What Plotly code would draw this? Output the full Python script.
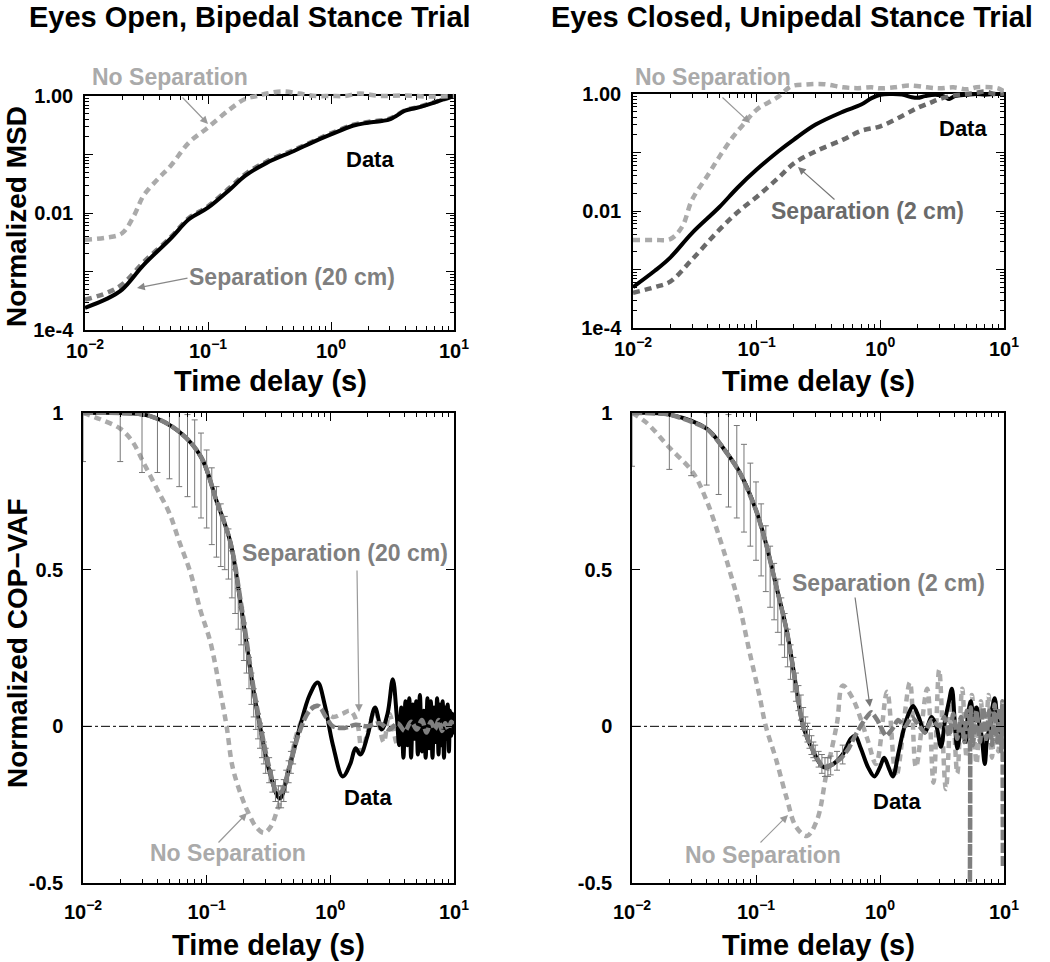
import plotly.graph_objects as go

W, H = 1050, 962

# ---------------- data ----------------
# Top-left: Eyes open, bipedal -- normalized MSD
tl_t = [0.01, 0.015, 0.02, 0.03, 0.05, 0.07, 0.1, 0.15, 0.2, 0.3, 0.5, 0.7, 1.0, 1.5, 2.0, 3.0, 4.0, 5.0, 7.0, 10.0]
tl_data = [2.4e-4, 3.4e-4, 4.9e-4, 1.3e-3, 3.7e-3, 7.8e-3, 0.0123, 0.025, 0.043, 0.072, 0.115, 0.16, 0.22, 0.31, 0.35, 0.40, 0.56, 0.63, 0.78, 1.0]
tl_sep = [3.3e-4, 4.3e-4, 6.0e-4, 1.45e-3, 3.9e-3, 8.2e-3, 0.013, 0.027, 0.046, 0.076, 0.12, 0.165, 0.23, 0.32, 0.36, 0.41, 0.57, 0.64, 0.79, 1.0]
tl_nosep_t = [0.01, 0.015, 0.02, 0.025, 0.03, 0.04, 0.05, 0.07, 0.1, 0.15, 0.2, 0.25, 0.3, 0.4, 0.55, 0.75, 1.0, 1.3, 1.7, 2.5, 4.0, 6.0, 10.0]
tl_nosep = [3.5e-3, 3.8e-3, 4.5e-3, 9e-3, 0.02, 0.04, 0.065, 0.16, 0.29, 0.59, 0.89, 1.0, 1.1, 1.2, 1.1, 1.0, 1.0, 1.0, 1.1, 1.0, 1.02, 0.98, 1.0]

# Top-right: Eyes closed, unipedal -- normalized MSD
tr_t = [0.01, 0.015, 0.02, 0.03, 0.05, 0.07, 0.1, 0.15, 0.2, 0.3, 0.5, 0.7, 0.85, 1.0, 1.2, 1.5, 1.8, 2.0, 2.3, 2.8, 3.3, 3.6, 4.0, 5.0, 6.0, 7.0, 8.5, 10.0]
tr_data = [5.0e-4, 9.5e-4, 1.6e-3, 4.2e-3, 0.0117, 0.025, 0.051, 0.105, 0.166, 0.30, 0.50, 0.66, 0.85, 0.97, 1.0, 0.98, 0.88, 0.86, 0.92, 0.97, 0.9, 0.82, 0.92, 0.97, 1.0, 0.97, 1.0, 1.0]
tr_sep_t = [0.01, 0.015, 0.02, 0.03, 0.05, 0.07, 0.1, 0.15, 0.2, 0.3, 0.5, 0.7, 1.0, 1.5, 2.0, 2.5, 3.0, 4.0, 5.0, 6.0, 7.0, 8.5, 10.0]
tr_sep = [4.0e-4, 5.0e-4, 6.2e-4, 1.48e-3, 4.8e-3, 9.5e-3, 0.0174, 0.037, 0.065, 0.105, 0.166, 0.235, 0.28, 0.42, 0.58, 0.70, 0.82, 0.95, 1.0, 1.05, 1.1, 1.0, 1.02]
tr_nosep_t = [0.01, 0.015, 0.02, 0.025, 0.03, 0.04, 0.05, 0.065, 0.08, 0.1, 0.15, 0.19, 0.25, 0.35, 0.5, 0.65, 0.85, 1.0, 1.3, 1.7, 2.4, 3.0, 3.9, 5.0, 6.0, 7.8, 9.0, 10.0]
tr_nosep = [3.2e-3, 3.2e-3, 3.3e-3, 5.4e-3, 0.0155, 0.04, 0.085, 0.19, 0.32, 0.54, 0.9, 1.35, 1.45, 1.47, 1.3, 1.26, 1.3, 1.25, 1.3, 1.4, 1.3, 1.25, 1.3, 1.2, 1.3, 1.3, 1.25, 1.1]

# Bottom-left: Eyes open, bipedal -- normalized COP-VAF
bl_t = [0.01, 0.02, 0.035, 0.06, 0.09, 0.12, 0.155, 0.19, 0.24, 0.27, 0.32, 0.39, 0.46, 0.56, 0.68, 0.79, 0.9, 1.05, 1.26, 1.45,
        1.6, 1.75, 2.0, 2.3, 2.6, 2.9, 3.2, 3.45, 3.6, 3.75, 3.9, 4.05, 4.2, 4.35, 4.5, 4.65, 4.8, 4.95, 5.1, 5.3,
        5.5, 5.7, 5.9, 6.1, 6.3, 6.5, 6.7, 6.9, 7.1, 7.3, 7.5, 7.7, 7.9, 8.1, 8.3, 8.5, 8.7, 8.9, 9.1, 9.3,
        9.5, 9.7, 9.9, 10.0]
bl_data = [1.0, 1.0, 0.99, 0.94, 0.86, 0.72, 0.59, 0.38, 0.11, 0.0, -0.14, -0.23, -0.14, -0.01, 0.10, 0.14, 0.07, -0.06, -0.16, -0.12,
           -0.07, -0.09, -0.03, 0.06, -0.01, 0.04, 0.15, 0.03, -0.06, 0.06, -0.1, 0.08, -0.06, 0.09, -0.1, 0.07, -0.04, 0.08, -0.09, 0.1,
           -0.08, 0.05, -0.1, 0.09, -0.07, 0.08, -0.1, 0.06, -0.05, 0.09, -0.09, 0.07, -0.06, 0.08, -0.1, 0.06, -0.04, 0.07, -0.08, 0.05,
           -0.03, 0.04, -0.02, 0.02]
bl_sep_t = [0.01, 0.02, 0.035, 0.06, 0.09, 0.12, 0.155, 0.19, 0.24, 0.27, 0.32, 0.37, 0.40, 0.46, 0.56, 0.68, 0.8, 0.92, 1.05, 1.3,
            1.6, 2.0, 2.5, 3.0, 3.5, 4.0, 4.5, 5.0, 5.5, 6.0, 6.5, 7.0, 7.5, 8.0, 8.5, 9.0, 9.5, 10.0]
bl_sep = [1.0, 1.0, 0.99, 0.94, 0.86, 0.72, 0.59, 0.39, 0.12, 0.01, -0.13, -0.21, -0.21, -0.14, -0.02, 0.05, 0.065, 0.03, 0.0, -0.005,
          0.005, 0.0, 0.01, -0.01, 0.01, -0.015, 0.015, -0.01, 0.02, -0.02, 0.015, -0.01, 0.02, -0.015, 0.01, -0.01, 0.015, 0.0]
bl_nosep_t = [0.01, 0.0138, 0.02, 0.025, 0.031, 0.04, 0.05, 0.06, 0.074, 0.089, 0.107, 0.129, 0.145, 0.162, 0.19, 0.214, 0.25, 0.29, 0.33, 0.37,
              0.42, 0.47, 0.56, 0.66, 0.78, 0.9, 1.05, 1.25, 1.45, 1.65, 1.8, 2.0, 2.3, 2.7, 3.0, 3.5, 4.0, 4.5, 5.0, 5.5,
              6.0, 7.0, 8.0, 9.0, 10.0]
bl_nosep = [1.0, 0.98, 0.95, 0.91, 0.84, 0.755, 0.68, 0.59, 0.49, 0.37, 0.27, 0.11, 0.0, -0.13, -0.22, -0.27, -0.32, -0.34, -0.32, -0.27,
            -0.2, -0.12, 0.0, 0.05, 0.065, 0.05, 0.03, 0.04, 0.05, 0.01, -0.08, -0.02, 0.05, -0.05, 0.04, -0.06, 0.05, -0.04, 0.06, -0.05,
            0.04, -0.04, 0.05, -0.03, 0.0]
bl_eb_t = [0.01, 0.02, 0.03, 0.04, 0.05, 0.06, 0.07, 0.08, 0.09, 0.10, 0.11, 0.12, 0.13, 0.14, 0.15, 0.16, 0.17, 0.18, 0.19, 0.20,
           0.21, 0.22, 0.23, 0.24, 0.25, 0.26, 0.27, 0.28, 0.29, 0.30, 0.32, 0.34, 0.36, 0.38, 0.40, 0.42, 0.44, 0.46, 0.48, 0.50]
bl_eb_lo = [0.845, 0.845, 0.81, 0.81, 0.79, 0.765, 0.733, 0.70, 0.665, 0.633, 0.58, 0.54, 0.51, 0.50, 0.47, 0.41, 0.36, 0.31, 0.26, 0.21,
            0.17, 0.12, 0.07, 0.03, -0.01, -0.04, -0.07, -0.10, -0.12, -0.15, -0.18, -0.21, -0.24, -0.26, -0.26, -0.24, -0.21, -0.18, -0.15, -0.12]
bl_eb_hi = [1.15, 1.15, 1.15, 1.15, 1.15, 1.12, 0.995, 0.978, 0.936, 0.882, 0.825, 0.765, 0.71, 0.67, 0.63, 0.56, 0.50, 0.44, 0.38, 0.33,
            0.28, 0.22, 0.17, 0.12, 0.08, 0.04, 0.01, -0.02, -0.05, -0.07, -0.10, -0.14, -0.17, -0.19, -0.19, -0.17, -0.14, -0.11, -0.08, -0.05]

# Bottom-right: Eyes closed, unipedal -- normalized COP-VAF
br_t = [0.01, 0.02, 0.04, 0.054, 0.074, 0.10, 0.12, 0.145, 0.178, 0.214, 0.24, 0.29, 0.35, 0.42, 0.5, 0.58, 0.63, 0.7, 0.8, 0.9,
        1.0, 1.08, 1.17, 1.27, 1.4, 1.53, 1.7, 1.85, 2.05, 2.3, 2.6, 2.85, 3.1, 3.35, 3.6, 3.8, 4.0, 4.2, 4.4, 4.6,
        4.9, 5.1, 5.4, 5.7, 6.0, 6.3, 6.6, 7.0, 7.3, 7.7, 8.0, 8.4, 8.8, 9.3, 9.7, 10.0]
br_data = [1.0, 0.995, 0.95, 0.89, 0.81, 0.69, 0.585, 0.45, 0.30, 0.11, 0.0, -0.08, -0.13, -0.12, -0.09, -0.04, -0.03, -0.07, -0.13, -0.16,
           -0.13, -0.1, -0.13, -0.16, -0.09, -0.02, 0.04, 0.065, 0.03, -0.02, 0.03, 0.0, -0.065, 0.02, 0.08, 0.12, 0.02, -0.07, -0.03, 0.0,
           -0.05, 0.03, 0.08, 0.02, 0.06, 0.01, -0.03, -0.12, -0.04, 0.0, 0.05, 0.09, 0.03, -0.02, 0.02, 0.0]
br_sep_t = [0.01, 0.02, 0.04, 0.054, 0.074, 0.10, 0.12, 0.145, 0.178, 0.214, 0.24, 0.29, 0.35, 0.42, 0.49, 0.56, 0.63, 0.75, 0.85, 0.95,
            1.12, 1.25, 1.4, 1.6, 1.8, 2.0, 2.3, 2.6, 3.0, 3.3, 3.6, 3.9, 4.2, 4.5, 4.8, 5.0, 5.2, 5.3, 5.4, 5.6,
            6.0, 6.4, 6.8, 7.2, 7.6, 8.0, 8.4, 8.8, 9.2, 9.5, 9.7, 9.8, 9.9, 10.0]
br_sep = [1.0, 0.995, 0.95, 0.89, 0.81, 0.69, 0.585, 0.45, 0.30, 0.11, 0.0, -0.08, -0.13, -0.12, -0.10, -0.07, -0.03, 0.02, 0.045, 0.02,
          -0.03, -0.01, 0.02, 0.0, 0.03, 0.01, -0.02, 0.02, 0.0, 0.03, -0.03, 0.04, -0.04, 0.03, -0.05, 0.05, 0.04, -0.56, 0.06, -0.06,
          0.05, -0.05, 0.06, -0.04, 0.05, -0.06, 0.07, -0.05, 0.06, -0.08, 0.08, -0.45, 0.05, 0.0]
br_nosep_t = [0.01, 0.013, 0.02, 0.031, 0.04, 0.051, 0.062, 0.074, 0.089, 0.107, 0.12, 0.145, 0.177, 0.21, 0.257, 0.31, 0.37, 0.45, 0.5, 0.6,
              0.79, 0.93, 1.14, 1.35, 1.74, 1.95, 2.4, 2.7, 3.0, 3.4, 3.8, 4.2, 4.6, 5.0, 5.5, 6.0, 6.5, 7.0, 7.5, 8.0,
              8.5, 9.0, 9.5, 10.0]
br_nosep = [1.0, 0.97, 0.89, 0.81, 0.72, 0.60, 0.49, 0.38, 0.235, 0.095, 0.0, -0.105, -0.23, -0.32, -0.35, -0.30, -0.15, 0.01, 0.13, 0.09,
            -0.04, -0.12, 0.11, -0.16, 0.14, -0.13, 0.12, -0.18, 0.18, -0.2, 0.1, -0.15, 0.12, -0.1, 0.1, -0.12, 0.08, -0.1, 0.1, -0.1,
            0.08, -0.08, 0.05, 0.0]
br_eb_t = [0.01, 0.02, 0.03, 0.04, 0.05, 0.06, 0.07, 0.08, 0.09, 0.10, 0.11, 0.12, 0.13, 0.14, 0.15, 0.16, 0.17, 0.18, 0.19, 0.20,
           0.21, 0.22, 0.23, 0.24, 0.25, 0.26, 0.27, 0.28, 0.29, 0.30, 0.32, 0.34, 0.36, 0.38, 0.40, 0.45, 0.50]
br_eb_lo = [0.83, 0.82, 0.80, 0.77, 0.74, 0.70, 0.665, 0.62, 0.575, 0.53, 0.48, 0.43, 0.38, 0.34, 0.30, 0.26, 0.22, 0.19, 0.15, 0.11,
            0.08, 0.05, 0.02, -0.01, -0.03, -0.05, -0.07, -0.09, -0.10, -0.11, -0.13, -0.15, -0.16, -0.16, -0.155, -0.14, -0.12]
br_eb_hi = [1.17, 1.17, 1.15, 1.0, 1.05, 0.995, 0.96, 0.90, 0.84, 0.78, 0.71, 0.64, 0.575, 0.52, 0.47, 0.41, 0.36, 0.31, 0.26, 0.22,
            0.17, 0.13, 0.10, 0.06, 0.03, 0.01, -0.01, -0.03, -0.05, -0.06, -0.08, -0.09, -0.10, -0.10, -0.095, -0.08, -0.06]

titles = ["Eyes Open, Bipedal Stance Trial", "Eyes Closed, Unipedal Stance Trial"]
xtitle = "Time delay (s)"
ytitles = ["Normalized MSD", "Normalized COP\u2212VAF"]
time_tickvals = [0.01, 0.1, 1, 10]
time_ticktext = ["10<sup>\u22122</sup>", "10<sup>\u22121</sup>", "10<sup>0</sup>", "10<sup>1</sup>"]
msd_tickvals = [1e-4, 1e-3, 1e-2, 1e-1, 1]
msd_ticktext = ["1e-4", "", "0.01", "", "1.00"]
vaf_tickvals = [-0.5, 0, 0.5, 1]
vaf_ticktext = ["-0.5", "0", "0.5", "1"]

# ---------------- styling ----------------
FONT = "Liberation Sans, Arial, sans-serif"
C_DATA = "black"
C_NOSEP = "#aaaaaa"
C_SEP = "#7f7f7f"
C_SEP2 = "#6a6a6a"
DASH = "7px,5px"

def px(x):
    return x / W

def py(y):
    return 1 - y / H

# panel pixel boxes (left, top, right, bottom)
boxes = {
    1: (85, 96, 454, 330),
    2: (633, 94, 1004, 328),
    3: (83, 413, 454, 883),
    4: (632, 413, 1004, 883),
}

fig = go.Figure()

def line(x, y, xa, ya, color, width, dash=None, smooth=1.0):
    fig.add_trace(go.Scatter(
        x=x, y=y, xaxis=xa, yaxis=ya, mode="lines", showlegend=False, hoverinfo="skip",
        line=dict(color=color, width=width, dash=dash, shape="spline", smoothing=smooth)))

def ebars(t, lo, hi, xa, ya, color):
    mid = [(a + b) / 2 for a, b in zip(lo, hi)]
    half = [(b - a) / 2 for a, b in zip(lo, hi)]
    fig.add_trace(go.Scatter(
        x=t, y=mid, xaxis=xa, yaxis=ya, mode="markers", showlegend=False, hoverinfo="skip",
        marker=dict(size=1, color="rgba(0,0,0,0)"),
        error_y=dict(type="data", array=half, color=color, thickness=1, width=3)))

# top-left
line(tl_t, tl_sep, "x", "y", C_SEP, 4.5, DASH)
line(tl_t, tl_data, "x", "y", C_DATA, 4)
line(tl_nosep_t, tl_nosep, "x5", "y5", C_NOSEP, 4.5, DASH)
# top-right
line(tr_t, tr_data, "x2", "y2", C_DATA, 4)
line(tr_sep_t, tr_sep, "x6", "y6", C_SEP2, 4.5, DASH)
line(tr_nosep_t, tr_nosep, "x6", "y6", C_NOSEP, 4.5, DASH)
# bottom-left
line(bl_nosep_t, bl_nosep, "x3", "y3", C_NOSEP, 4.5, DASH)
line(bl_t, bl_data, "x3", "y3", C_DATA, 4)
ebars(bl_eb_t, bl_eb_lo, bl_eb_hi, "x3", "y3", "#777777")
line(bl_sep_t, bl_sep, "x3", "y3", C_SEP, 4.5, "10px,3px")
# bottom-right
line(br_nosep_t, br_nosep, "x4", "y4", C_NOSEP, 4.5, DASH)
line(br_t, br_data, "x4", "y4", C_DATA, 4)
ebars(br_eb_t, br_eb_lo, br_eb_hi, "x4", "y4", "#777777")
line(br_sep_t, br_sep, "x4", "y4", C_SEP, 4.5, "10px,3px", smooth=0.6)

tickfont = dict(family=FONT, size=20, color="black", weight="bold")
time_minor_vals = [k * 10.0 ** e for e in (-2, -1, 0) for k in range(2, 10)]
msd_minor_vals = [k * 10.0 ** e for e in (-4, -3, -2, -1) for k in range(2, 10)]
def minor(vals):
    return dict(tickmode="array", tickvals=vals, ticks="inside", ticklen=4, tickwidth=1,
                tickcolor="black", showgrid=False)

def xaxis_cfg(i, standoff):
    l, t, r, b = boxes[i]
    return dict(domain=[px(l), px(r)], type="log", range=[-2, 1], tickmode="array",
                tickvals=time_tickvals, ticktext=time_ticktext,
                showline=True, linecolor="black", linewidth=1.5, mirror="allticks",
                ticks="inside", ticklen=8, tickwidth=1.2, tickcolor="black", minor=minor(time_minor_vals),
                showgrid=False, zeroline=False, tickfont=tickfont, ticklabelstandoff=standoff,
                automargin=False, anchor="y" if i == 1 else "y%d" % i)

def yaxis_msd(i):
    l, t, r, b = boxes[i]
    return dict(domain=[py(b), py(t)], type="log", range=[-4, 0], tickmode="array",
                tickvals=msd_tickvals, ticktext=msd_ticktext,
                showline=True, linecolor="black", linewidth=1.5, mirror="allticks",
                ticks="inside", ticklen=8, tickwidth=1.2, tickcolor="black", minor=minor(msd_minor_vals),
                showgrid=False, zeroline=False, tickfont=tickfont, ticklabelstandoff=6,
                automargin=False, anchor="x" if i == 1 else "x%d" % i)

def yaxis_vaf(i):
    l, t, r, b = boxes[i]
    return dict(domain=[py(b), py(t)], range=[-0.5, 1], tickmode="array",
                tickvals=vaf_tickvals, ticktext=vaf_ticktext,
                showline=True, linecolor="black", linewidth=1.5, mirror="allticks",
                ticks="inside", ticklen=8, tickwidth=1.2, tickcolor="black",
                showgrid=False, zeroline=False, tickfont=tickfont, ticklabelstandoff=14,
                automargin=False, anchor="x%d" % i)

# overlay (invisible) axes for the top panels, extended upward so curves above 1.00 are not clipped
EXT = 16  # px
def overlay_axes(i):
    l, t, r, b = boxes[i]
    per_dec = (b - t) / 4.0
    xa = dict(domain=[px(l), px(r)], type="log", range=[-2, 1], visible=False, showgrid=False,
              automargin=False, anchor="y%d" % (i + 4))
    ya = dict(domain=[py(b), py(t - EXT)], type="log", range=[-4, EXT / per_dec], visible=False,
              showgrid=False, automargin=False, anchor="x%d" % (i + 4))
    return xa, ya

x5, y5 = overlay_axes(1)
x6, y6 = overlay_axes(2)

layout = dict(
    width=W, height=H, margin=dict(l=0, r=0, t=0, b=0, autoexpand=False),
    paper_bgcolor="white", plot_bgcolor="rgba(0,0,0,0)",
    showlegend=False, font=dict(family=FONT, color="black"),
    xaxis=xaxis_cfg(1, 2), yaxis=yaxis_msd(1),
    xaxis2=xaxis_cfg(2, 2), yaxis2=yaxis_msd(2),
    xaxis3=xaxis_cfg(3, 10), yaxis3=yaxis_vaf(3),
    xaxis4=xaxis_cfg(4, 10), yaxis4=yaxis_vaf(4),
    xaxis5=x5, yaxis5=y5, xaxis6=x6, yaxis6=y6,
)
fig.update_layout(**layout)

# zero reference lines (dash-dot)
for i in (3, 4):
    fig.add_shape(type="line", xref="x%d domain" % i, x0=0, x1=1, yref="y%d" % i, y0=0, y1=0,
                  line=dict(color="black", width=1, dash="dashdot"), layer="below")

ann = []
def text(x, y, s, size, color="black", angle=0):
    ann.append(dict(x=px(x), y=py(y), xref="paper", yref="paper", text="<b>%s</b>" % s,
                    showarrow=False, xanchor="center", yanchor="middle", textangle=angle,
                    font=dict(family=FONT, size=size, color=color)))

def arrow(tail, head, color):
    ann.append(dict(x=px(head[0]), y=py(head[1]), xref="paper", yref="paper", text="",
                    showarrow=True, ax=tail[0] - head[0], ay=tail[1] - head[1],
                    arrowhead=2, arrowsize=1.3, arrowwidth=1.2, arrowcolor=color,
                    borderpad=0, standoff=0, startstandoff=0))

# titles
text(250, 17, titles[0], 29)
text(792, 17, titles[1], 29)
# axis titles
text(270, 381, xtitle, 29)
text(818, 381, xtitle, 29)
text(268, 945, xtitle, 29)
text(818, 945, xtitle, 29)
text(17, 217, ytitles[0], 28, angle=-90)
text(17, 643, ytitles[1], 28, angle=-90)

# in-plot labels
text(170, 77, "No Separation", 23, C_NOSEP)
text(370, 159, "Data", 22)
text(292, 277, "Separation (20 cm)", 23, C_SEP)
arrow((182, 97), (208, 124), "#999999")
arrow((188, 278), (137, 288), "#888888")

text(713, 77, "No Separation", 23, C_NOSEP)
text(963, 128, "Data", 22)
text(867, 211, "Separation (2 cm)", 23, C_SEP2)
arrow((722, 97), (750, 123), "#999999")
arrow((835, 200), (798, 167), "#777777")

text(345, 553, "Separation (20 cm)", 23, C_SEP)
text(368, 797, "Data", 22)
text(228, 853, "No Separation", 23, C_NOSEP)
arrow((357, 570), (359, 712), "#999999")
arrow((218, 843), (247, 813), "#999999")

text(888, 583, "Separation (2 cm)", 23, C_SEP)
text(897, 801, "Data", 22)
text(763, 855, "No Separation", 23, C_NOSEP)
arrow((855, 597), (870, 707), "#777777")
arrow((760, 843), (788, 815), "#999999")

fig.update_layout(annotations=ann)

fig.write_html(
    "out.html",
    config={"displayModeBar": False},
    post_script="document.body.style.margin='0px';document.body.style.padding='0px';document.body.style.overflow='hidden';",
)
